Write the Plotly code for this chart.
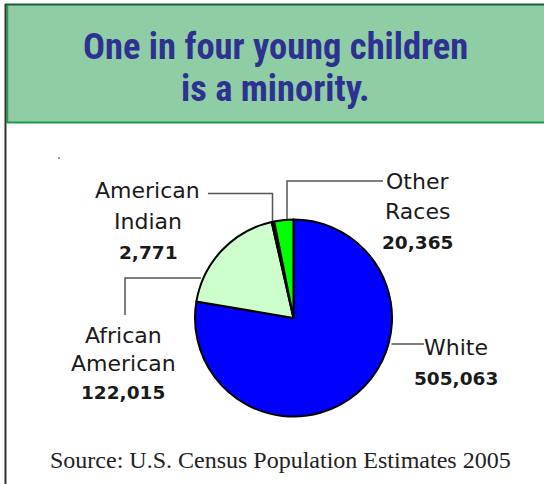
import plotly.graph_objects as go

# ---- data ----
categories = ["White", "African American", "American Indian", "Other Races"]
values = [505063, 122015, 2771, 20365]
label_lines = [["White"], ["African", "American"], ["American", "Indian"], ["Other", "Races"]]
slice_colors = ["#0000ff", "#ccffcc", "#000000", "#00ff00"]
title_lines = ["One in four young children", "is a minority."]
source_text = "Source: U.S. Census Population Estimates 2005"

W, H = 544, 484


def px(x, y):
    return x / W, 1 - y / H


# pie geometry (pixels)
cx, cy, r = 293.5, 318.0, 98.5

fig = go.Figure()
fig.add_trace(go.Pie(
    labels=categories,
    values=values,
    sort=False,
    direction="clockwise",
    rotation=0,
    marker=dict(colors=slice_colors, line=dict(color="#000000", width=2)),
    textinfo="none",
    hoverinfo="label+value",
    showlegend=False,
    domain=dict(x=[(cx - r) / W, (cx + r) / W], y=[1 - (cy + r) / H, 1 - (cy - r) / H]),
))

shapes = []
# header band
shapes.append(dict(type="rect", xref="paper", yref="paper",
                   x0=5 / W, x1=1.02, y0=1 - 123 / H, y1=1 - 4 / H,
                   fillcolor="#8fcea5", line=dict(width=0), layer="below"))
# header borders
shapes.append(dict(type="line", xref="paper", yref="paper", x0=5 / W, x1=1.02,
                   y0=1 - 4.5 / H, y1=1 - 4.5 / H, line=dict(color="#1d5e34", width=2)))
shapes.append(dict(type="line", xref="paper", yref="paper", x0=7 / W, x1=1.02,
                   y0=1 - 122.5 / H, y1=1 - 122.5 / H, line=dict(color="#1f9a52", width=2)))
shapes.append(dict(type="line", xref="paper", yref="paper", x0=7.5 / W, x1=7.5 / W,
                   y0=1 - 5 / H, y1=1 - 123 / H, line=dict(color="#1f9a52", width=1.5)))
shapes.append(dict(type="line", xref="paper", yref="paper", x0=5.5 / W, x1=5.5 / W,
                   y0=1 - 4 / H, y1=-0.01, line=dict(color="#333333", width=2)))
# tiny mark
shapes.append(dict(type="line", xref="paper", yref="paper", x0=58 / W, x1=60 / W,
                   y0=1 - 158 / H, y1=1 - 158 / H, line=dict(color="#444444", width=1)))

# leader lines (pixel paths)
leaders = [
    [(391.5, 344), (424, 344)],                       # White
    [(201, 278), (125, 278), (125, 315)],             # African American
    [(272.5, 221), (272.5, 193.5), (208, 193.5)],     # American Indian
    [(287, 219), (287, 181), (383, 181)],             # Other Races
]
for pts in leaders:
    path = "M " + " L ".join(f"{x / W},{1 - y / H}" for x, y in pts)
    shapes.append(dict(type="path", xref="paper", yref="paper", path=path,
                       line=dict(color="#555555", width=1.5)))

annotations = []
# label anchor positions (center x, first line center y), line spacing
label_pos = [(456, 347), (123, 335), (148, 190), (417, 181)]
line_gap = [31, 28.5, 31, 30.5]
for i, cat in enumerate(categories):
    x0, y0 = label_pos[i]
    lines = label_lines[i]
    for j, t in enumerate(lines):
        xx, yy = px(x0 if not (i == 2 and j == 0) else 147, y0 + j * line_gap[i])
        annotations.append(dict(text=t, x=xx, y=yy, xref="paper", yref="paper",
                                showarrow=False, xanchor="center", yanchor="middle",
                                font=dict(family="DejaVu Sans", size=22, color="#1a1a1a")))
    xx, yy = px(x0, y0 + len(lines) * line_gap[i])
    annotations.append(dict(text=f"<b>{values[i]:,}</b>", x=xx, y=yy, xref="paper", yref="paper",
                            showarrow=False, xanchor="center", yanchor="middle",
                            font=dict(family="DejaVu Sans", size=18.5, color="#1a1a1a")))

# title
for k, t in enumerate(title_lines):
    xx, yy = px(275, 47 + k * 41)
    annotations.append(dict(text=f"<b>{t}</b>", x=xx, y=yy, xref="paper", yref="paper",
                            showarrow=False, xanchor="center", yanchor="middle",
                            font=dict(family="Liberation Sans Narrow, Roboto Condensed, DejaVu Sans Condensed, Noto Sans",
                                      size=36.5, color="#2e3192")))
# source
xx, yy = px(280, 460)
annotations.append(dict(text=source_text, x=xx, y=yy, xref="paper", yref="paper",
                        showarrow=False, xanchor="center", yanchor="middle",
                        font=dict(family="Liberation Serif", size=24, color="#222222")))

fig.update_layout(
    width=W, height=H,
    margin=dict(l=0, r=0, t=0, b=0),
    paper_bgcolor="#ffffff",
    plot_bgcolor="#ffffff",
    shapes=shapes,
    annotations=annotations,
)

fig.write_html("out.html", config={"displayModeBar": False},
               post_script="document.body.style.margin='0';document.body.style.overflow='hidden';")
